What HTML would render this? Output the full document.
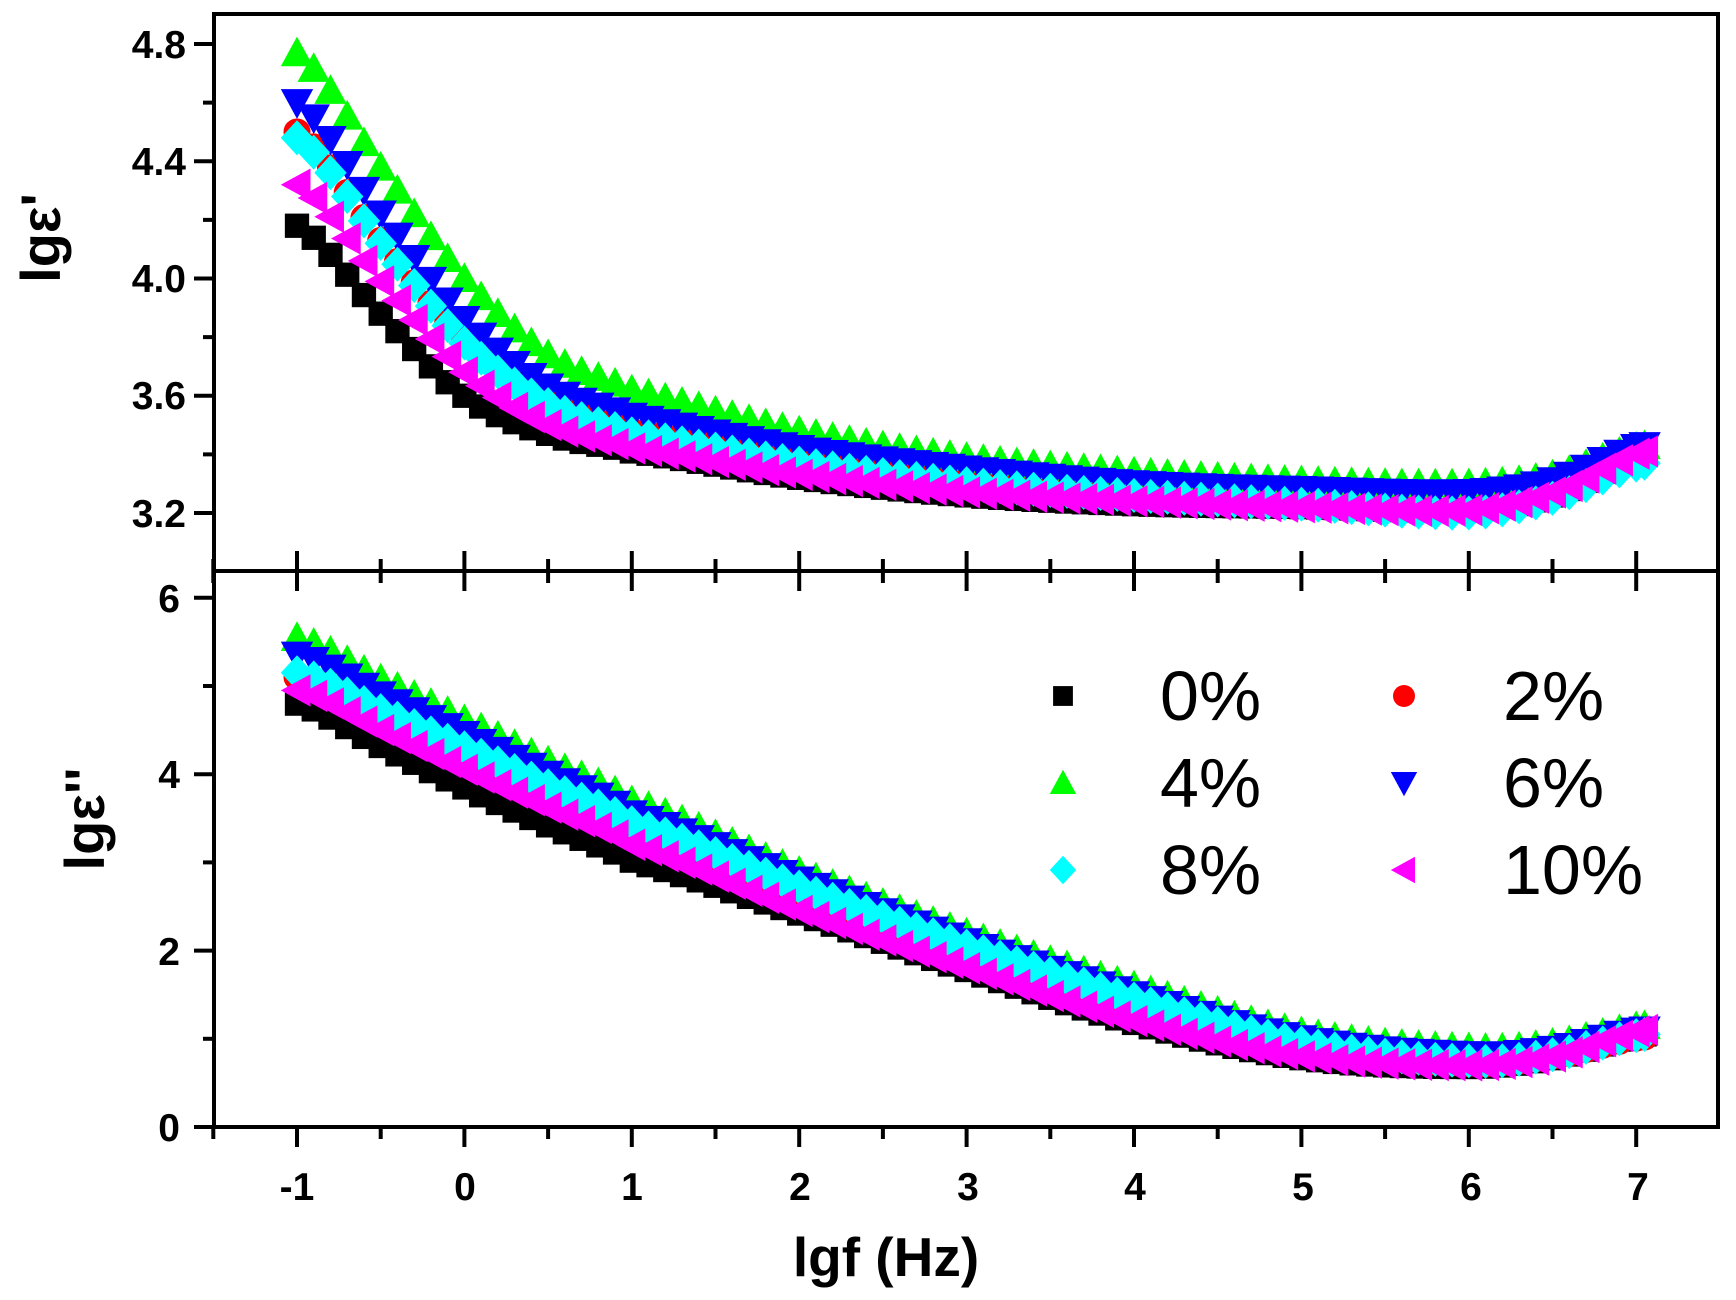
<!DOCTYPE html>
<html><head><meta charset="utf-8"><style>
html,body{margin:0;padding:0;background:#fff;}
svg{display:block;}
text{font-family:"Liberation Sans",Arial,sans-serif;}
</style></head><body>
<svg id="s" width="1736" height="1300" viewBox="0 0 1736 1300" xmlns="http://www.w3.org/2000/svg">
<rect width="1736" height="1300" fill="#fff"/>
<g id="data"></g>
<g id="axes" stroke="#000" stroke-width="4" fill="none">
<rect x="214" y="14" width="1504" height="1113"/>
<line x1="214" y1="571" x2="1718" y2="571"/>
</g>
<g id="ticks" stroke="#000" stroke-width="4"></g>
<g font-weight="bold" font-size="39" text-anchor="end" fill="#000">
<text x="186" y="58">4.8</text>
<text x="186" y="175">4.4</text>
<text x="186" y="292">4.0</text>
<text x="186" y="409">3.6</text>
<text x="186" y="527">3.2</text>
<text x="180" y="612">6</text>
<text x="180" y="788">4</text>
<text x="180" y="965">2</text>
<text x="180" y="1141">0</text>
</g>
<g font-weight="bold" font-size="39" text-anchor="middle" fill="#000">
<text x="297" y="1200">-1</text>
<text x="465" y="1200">0</text>
<text x="632" y="1200">1</text>
<text x="800" y="1200">2</text>
<text x="968" y="1200">3</text>
<text x="1135" y="1200">4</text>
<text x="1303" y="1200">5</text>
<text x="1471" y="1200">6</text>
<text x="1638" y="1200">7</text>
</g>
<text x="886" y="1276" font-weight="bold" font-size="55" text-anchor="middle">lgf (Hz)</text>
<text transform="translate(60,238) rotate(-90)" font-weight="bold" font-size="56" text-anchor="middle">lgε'</text>
<text transform="translate(104,819) rotate(-90)" font-weight="bold" font-size="56" text-anchor="middle">lgε''</text>
<g font-size="70" fill="#000">
<text x="1160" y="720">0%</text>
<text x="1503" y="720">2%</text>
<text x="1160" y="807">4%</text>
<text x="1503" y="807">6%</text>
<text x="1160" y="894">8%</text>
<text x="1503" y="894">10%</text>
</g>
<g id="leg"></g>
</svg>
<script>
(function(){
var NS="http://www.w3.org/2000/svg";
function el(p,t,a){var e=document.createElementNS(NS,t);for(var k in a)e.setAttribute(k,a[k]);p.appendChild(e);return e;}
var X=function(v){return 297+(v+1)*167.4;};
var Yt=function(v){return 44+(4.8-v)/0.4*117.25;};
var Yb=function(v){return 1127-v*88.2;};
var tk=document.getElementById('ticks');
for(var i=0;i<=17;i++){var v=-1.5+i*0.5;var x=X(v);var maj=(i%2==1);
 el(tk,'line',{x1:x,y1:1127,x2:x,y2:1127+(maj?20:12)});
 el(tk,'line',{x1:x,y1:571-(maj?20:12),x2:x,y2:571+(maj?20:12)});}
for(var j=0;j<=8;j++){var v=3.2+j*0.2;var y=Yt(v);var maj=(j%2==0);el(tk,'line',{x1:214,y1:y,x2:214-(maj?20:11),y2:y});}
for(var v=0;v<=6;v+=1){var y=Yb(v);var maj=v%2==0;el(tk,'line',{x1:214,y1:y,x2:214-(maj?20:11),y2:y});}
var K=[-1,-0.5,0,0.5,1,2,3,4,5,6,6.5,7.05];
var tp={
k:[4.18,3.88,3.60,3.47,3.41,3.32,3.26,3.23,3.22,3.21,3.26,3.40],
r:[4.5,4.13,3.79,3.58,3.48,3.38,3.31,3.27,3.24,3.21,3.26,3.38],
g:[4.77,4.38,4.0,3.74,3.62,3.48,3.39,3.34,3.31,3.30,3.33,3.43],
b:[4.6,4.22,3.86,3.63,3.53,3.42,3.35,3.30,3.28,3.27,3.31,3.43],
c:[4.48,4.12,3.78,3.57,3.47,3.37,3.30,3.26,3.23,3.20,3.25,3.37],
m:[4.32,3.99,3.68,3.50,3.42,3.33,3.27,3.24,3.22,3.21,3.27,3.41]};
var bt={
k:[4.8,4.32,3.85,3.42,3.02,2.42,1.78,1.18,0.78,0.68,0.78,1.05],
r:[5.1,4.67,4.25,3.82,3.4,2.68,2.0,1.4,0.92,0.72,0.8,1.02],
g:[5.55,5.08,4.62,4.15,3.7,2.9,2.2,1.6,1.08,0.9,0.95,1.15],
b:[5.35,4.9,4.45,4.0,3.55,2.8,2.1,1.5,1.0,0.82,0.88,1.1],
c:[5.15,4.72,4.3,3.87,3.45,2.72,2.05,1.45,0.95,0.75,0.82,1.05],
m:[4.95,4.5,4.05,3.62,3.2,2.45,1.8,1.2,0.8,0.7,0.8,1.1]};
function interp(a,x){
 for(var i=0;i<K.length-1;i++){if(x<=K[i+1]+1e-9){var t=(x-K[i])/(K[i+1]-K[i]);
  var p0=a[Math.max(i-1,0)],p1=a[i],p2=a[i+1],p3=a[Math.min(i+2,a.length-1)];
  var t2=t*t,t3=t2*t;return 0.5*((2*p1)+(-p0+p2)*t+(2*p0-5*p1+4*p2-p3)*t2+(-p0+3*p1-3*p2+p3)*t3);}}
 return a[a.length-1];}
var col={k:'#000',r:'#f00',g:'#0f0',b:'#00f',c:'#0ff',m:'#f0f'};
function mk(p,s,x,y,S){var c=col[s];S=S||1.35;
 var a=12*S,b=10*S,q=9*S,r=10*S,d=13*S;
 if(s=='k')el(p,'rect',{x:x-q,y:y-q,width:2*q,height:2*q,fill:c});
 else if(s=='r')el(p,'circle',{cx:x,cy:y,r:r,fill:c});
 else if(s=='g')el(p,'polygon',{points:(x-a)+','+(y+b)+' '+(x+a)+','+(y+b)+' '+x+','+(y-a),fill:c});
 else if(s=='b')el(p,'polygon',{points:(x-a)+','+(y-b)+' '+(x+a)+','+(y-b)+' '+x+','+(y+a),fill:c});
 else if(s=='c')el(p,'polygon',{points:x+','+(y-d)+' '+(x+a)+','+y+' '+x+','+(y+d)+' '+(x-a)+','+y,fill:c});
 else el(p,'polygon',{points:(x+b)+','+(y-a)+' '+(x+b)+','+(y+a)+' '+(x-a)+','+y,fill:c});}
var dg=document.getElementById('data');
['k','r','g','b','c','m'].forEach(function(s){
 for(var i=0;i<=81;i++){var v=-1+i*0.1;if(v>7.05)v=7.05;
  mk(dg,s,X(v),Yt(interp(tp[s],v)));
  mk(dg,s,X(v),Yb(interp(bt[s],v)));}});
var lg=document.getElementById('leg');
mk(lg,'k',1063,696,1.1);mk(lg,'r',1404,696,1.1);
mk(lg,'g',1063,783,1.1);mk(lg,'b',1404,783,1.1);
mk(lg,'c',1063,870,1.1);mk(lg,'m',1404,870,1.1);
})();
</script>
</body></html>
